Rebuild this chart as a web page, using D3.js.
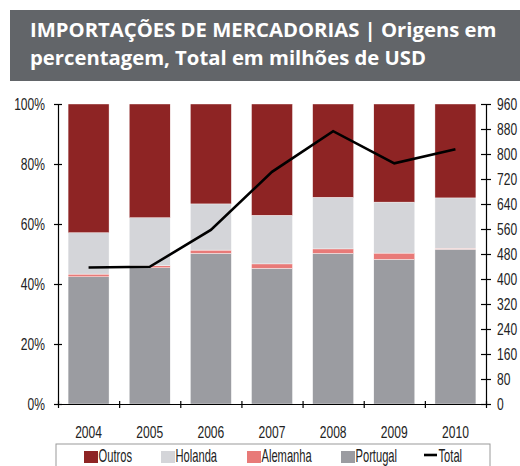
<!DOCTYPE html>
<html lang="pt">
<head>
<meta charset="utf-8">
<title>Importações de mercadorias</title>
<script src="https://d3js.org/d3.v7.min.js"></script>
<style>
body { margin: 0; background: #fff; }
.axis text { font-family: "Liberation Sans", Arial, sans-serif; font-size: 17px; fill: #222; }
.axis path, .axis line { stroke: #000; stroke-width: 1.2; }
.legend text { font-family: "Liberation Sans", Arial, sans-serif; font-size: 18px; fill: #222; }
.title { font-family: "Open Sans", sans-serif; font-weight: bold; fill: #fff; }
</style>
</head>
<body>
<script>
// dados
var years    = ["2004", "2005", "2006", "2007", "2008", "2009", "2010"];
var portugal = [42.4, 45.4, 50.2, 45.2, 50.2, 48.2, 51.6];
var alemanha = [0.9, 0.7, 1.1, 1.5, 1.5, 2.1, 0.3];
var holanda  = [13.8, 16.0, 15.4, 16.2, 17.2, 17.0, 16.8];
var outros   = [42.9, 37.9, 33.3, 37.1, 31.1, 32.7, 31.3];
var total    = [437, 439, 557, 743, 873, 770, 815];

var pctTicks   = [0, 20, 40, 60, 80, 100];
var totalTicks = [0, 80, 160, 240, 320, 400, 480, 560, 640, 720, 800, 880, 960];

var series = [
  {name: "Portugal", values: portugal, color: "#9b9ca1"},
  {name: "Alemanha", values: alemanha, color: "#e87a78"},
  {name: "Holanda",  values: holanda,  color: "#d4d5d9"},
  {name: "Outros",   values: outros,   color: "#8e2424"}
];

var w = 520, h = 466;
var pLeft = 58, pRight = 486, pTop = 104, pBottom = 404;

// fonte condensada: encolhe o texto na horizontal
function condense(sel, sx) {
  sel.each(function() {
    var t = d3.select(this);
    var tx = +t.attr("x") || 0;
    t.attr("x", tx / sx).attr("transform", "scale(" + sx + ",1)");
  });
}

var svg = d3.select("body").append("svg")
  .attr("width", w)
  .attr("height", h);

// titulo
svg.append("rect")
  .attr("x", 10).attr("y", 10)
  .attr("width", 510).attr("height", 71)
  .attr("fill", "#626569");

var titleLines = ["IMPORTAÇÕES DE MERCADORIAS | Origens em", "percentagem, Total em milhões de USD"];
var t1 = svg.append("text").attr("class", "title")
  .attr("x", 30).attr("y", 37).style("font-size", "18px").text(titleLines[0]);
var fs = 18 * 467 / t1.node().getComputedTextLength();
t1.style("font-size", fs + "px");
svg.append("text").attr("class", "title")
  .attr("x", 30).attr("y", 65).style("font-size", fs + "px").text(titleLines[1]);

// escalas
var x = d3.scaleBand()
  .domain(years)
  .range([pLeft, pRight])
  .paddingInner(0.33)
  .paddingOuter(0.165);

var yPct = d3.scaleLinear().domain([0, 100]).range([pBottom, pTop]);
var yTot = d3.scaleLinear().domain([0, 960]).range([pBottom, pTop]);
var xTick = d3.scaleLinear().domain([0, years.length]).range([pLeft, pRight]);

// barras empilhadas
var stackData = years.map(function(y, i) {
  var row = {year: y};
  series.forEach(function(s) { row[s.name] = s.values[i]; });
  return row;
});
var stacked = d3.stack().keys(series.map(function(s) { return s.name; }))(stackData);

svg.append("g").selectAll("g")
  .data(stacked)
  .enter()
  .append("g")
  .attr("fill", function(d, i) { return series[i].color; })
  .selectAll("rect")
  .data(function(d) { return d; })
  .enter()
  .append("rect")
  .attr("x", function(d) { return x(d.data.year); })
  .attr("y", function(d) { return yPct(d[1]); })
  .attr("width", x.bandwidth())
  .attr("height", function(d) { return yPct(d[0]) - yPct(d[1]); })
  .attr("stroke", "#fff")
  .attr("stroke-width", 0.4);

// linha total
var line = d3.line()
  .x(function(d, i) { return x(years[i]) + x.bandwidth() / 2; })
  .y(function(d) { return yTot(d); });

svg.append("path")
  .datum(total)
  .attr("d", line)
  .attr("fill", "none")
  .attr("stroke", "#000")
  .attr("stroke-width", 2.6);

// eixos
var gl = svg.append("g")
  .attr("class", "axis")
  .attr("transform", "translate(" + pLeft + ",0)")
  .call(d3.axisLeft(yPct).tickValues(pctTicks).tickFormat(function(d) { return d + "%"; })
    .tickSizeInner(4).tickSizeOuter(0).tickPadding(9));
gl.selectAll(".tick line").attr("x1", 4);
condense(gl.selectAll("text"), 0.71);

var gr = svg.append("g")
  .attr("class", "axis")
  .attr("transform", "translate(" + pRight + ",0)")
  .call(d3.axisRight(yTot).tickValues(totalTicks)
    .tickSizeInner(5).tickSizeOuter(0).tickPadding(6));
gr.selectAll(".tick line").attr("x1", -5);
condense(gr.selectAll("text"), 0.71);

var gb = svg.append("g")
  .attr("class", "axis")
  .attr("transform", "translate(0," + pBottom + ")")
  .call(d3.axisBottom(xTick).ticks(years.length).tickFormat("").tickSizeInner(4).tickSizeOuter(0));
gb.selectAll(".tick line").attr("y1", -3);
gb.select(".domain").attr("stroke", "#444");

var gx = svg.append("g")
  .attr("class", "axis")
  .attr("transform", "translate(0," + pBottom + ")")
  .call(d3.axisBottom(x).tickSize(0).tickPadding(22));
gx.select(".domain").remove();
condense(gx.selectAll("text"), 0.71);

// legenda
var legend = svg.append("g").attr("class", "legend");
legend.append("rect")
  .attr("x", 56).attr("y", 444)
  .attr("width", 434).attr("height", 40)
  .attr("fill", "#fff")
  .attr("stroke", "#9a9a9a");

var legendItems = [
  {name: "Outros",   color: "#8e2424", x: 84},
  {name: "Holanda",  color: "#d4d5d9", x: 161},
  {name: "Alemanha", color: "#e87a78", x: 247},
  {name: "Portugal", color: "#9b9ca1", x: 341},
  {name: "Total",    color: "#000",    x: 424, isLine: true}
];

legendItems.forEach(function(d) {
  if (d.isLine) {
    legend.append("line")
      .attr("x1", d.x).attr("x2", d.x + 13)
      .attr("y1", 455).attr("y2", 455)
      .attr("stroke", d.color).attr("stroke-width", 2.6);
  } else {
    legend.append("rect")
      .attr("x", d.x).attr("y", 451)
      .attr("width", 14).attr("height", 12)
      .attr("fill", d.color);
  }
  var lt = legend.append("text")
    .attr("x", d.x + 14.5).attr("y", 462.5)
    .text(d.name);
  condense(lt, 0.62);
});
</script>
</body>
</html>
